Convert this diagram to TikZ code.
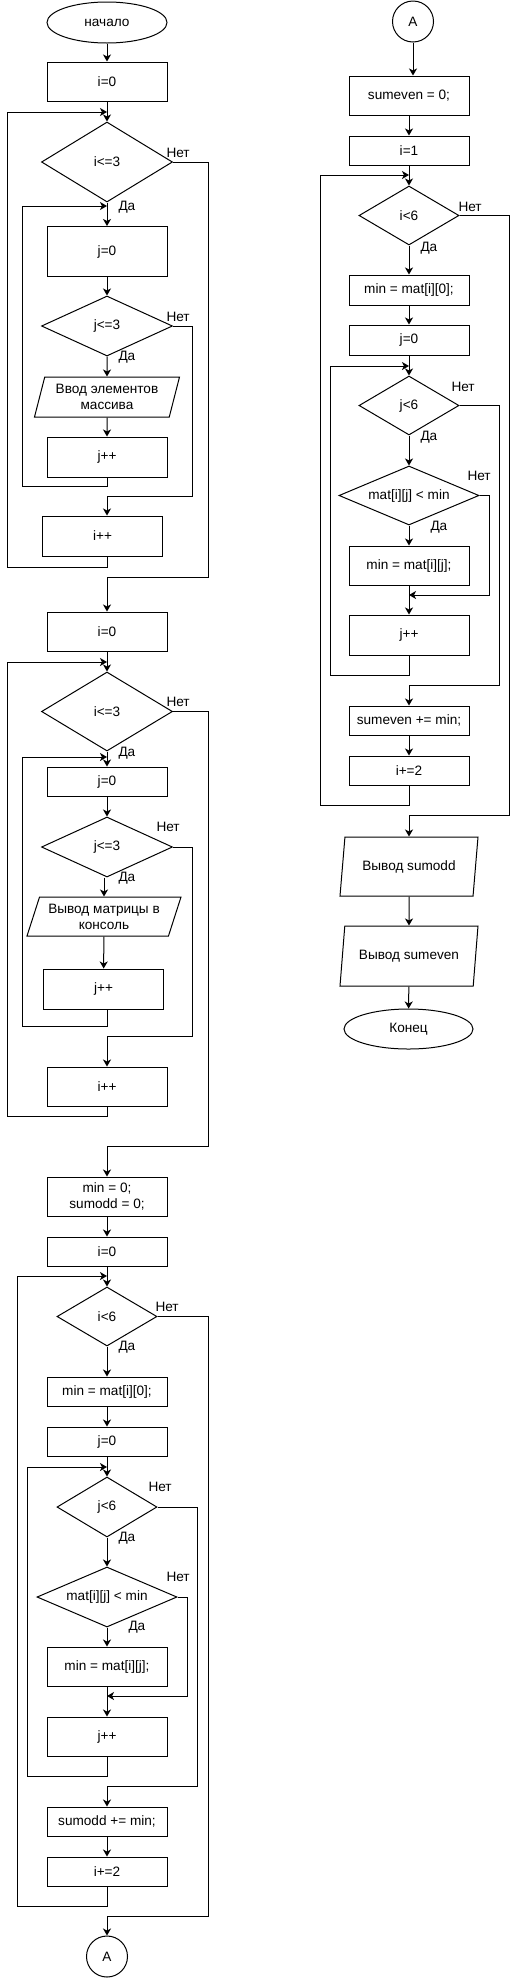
\documentclass[tikz,border=0pt]{standalone}
\usepackage{fontspec}
\setmainfont{Liberation Sans}
\usetikzlibrary{shapes.geometric,arrows.meta}

\begin{document}
\begin{tikzpicture}
[x=0.75pt,y=-0.75pt,%
  font=\fontsize{10.2}{12}\selectfont,%
  procDecorate/.style={shape=rectangle,draw,minimum width=90pt,inner sep=1pt,align=center},%
  condDecorate/.style={shape=diamond,draw,inner sep=0pt},%
  ioDecorate/.style={shape=trapezium,draw,trapezium stretches body,inner sep=1pt,align=center},%
  termDecorate/.style={shape=ellipse,draw,inner sep=0pt},%
  linkDecorate/.style={shape=circle,draw,minimum size=30.75pt,inner sep=0pt},%
  lineDecorate/.style={-{Stealth[length=5.25pt,width=6pt,inset=1.5pt]}},%
  lblDecorate/.style={anchor=west,inner sep=0pt},%
  line width=0.75pt]
\useasboundingbox (0,0) rectangle (518,1978);
%% terminals and connectors
\node (start) at (107,22.5) [termDecorate,minimum width=90pt,minimum height=30.75pt] {начало};
\node (fin) at (408.5,1029) [termDecorate,minimum width=96.75pt,minimum height=30pt] {Конец};
\node (conA) at (107,1956.5) [linkDecorate] {A};
\node (conB) at (413,21.5) [linkDecorate] {A};
%% process boxes
\foreach \nodename/\x/\y/\h/\txt in {
  i0a/107/81.5/29.25pt/{i=0}, j0a/107/251.5/37.5pt/{j=0},
  jpa/107/457/30pt/{j++}, ipa/102.5/536/30pt/{i++},
  i0b/107/631.5/29.25pt/{i=0}, j0b/107/781.5/21.75pt/{j=0},
  jpb/103.5/989/30pt/{j++}, ipb/107/1086.5/29.25pt/{i++},
  min0/107/1196.5/29.25pt/{min = 0;\\sumodd = 0;}, i0c/107/1251.5/21.75pt/{i=0},
  mi0a/107/1391.5/21.75pt/{min = mat[i][0];}, j0c/107/1441.5/21.75pt/{j=0},
  mija/107/1666.5/29.25pt/{min = mat[i][j];}, jpc/107/1736.5/29.25pt/{j++},
  sodd/107/1821.5/21.75pt/{sumodd += min;}, i2a/107/1871.5/21.75pt/{i+=2},
  sev0/409/95.5/29.25pt/{sumeven = 0;}, i1/409/150.5/21.75pt/{i=1},
  mi0b/409/290/22.5pt/{min = mat[i][0];}, j0d/409/340/22.5pt/{j=0},
  mijb/409/565.5/29.25pt/{min = mat[i][j];}, jpd/409/635/30pt/{j++},
  seven/409/720.5/21.75pt/{sumeven += min;}, i2b/409/770.5/21.75pt/{i+=2}}
{
  \node (\nodename) at (\x,\y) [procDecorate,minimum height=\h] {\txt};
}
%% conditions
\foreach \nodename/\x/\y/\w/\h/\a/\txt in {
  ci1/107/162/98.25pt/60pt/1.64/{i<=3}, cj1/107/326/98.25pt/45pt/2.18/{j<=3},
  ci2/107/711.5/98.25pt/59.25pt/1.66/{i<=3}, cj2/107/847/98.25pt/45pt/2.18/{j<=3},
  ci3/107/1316.5/75pt/44.25pt/1.7/{i<6}, cj3/107/1507/75pt/45pt/1.67/{j<6},
  cm3/107/1597/105pt/45pt/2.33/{mat[i][j] < min},
  ci4/409/215.5/75pt/44.25pt/1.7/{i<6}, cj4/409/405.5/75pt/44.25pt/1.7/{j<6},
  cm4/409/495.5/105pt/44.25pt/2.37/{mat[i][j] < min}}
{
  \node (\nodename) at (\x,\y) [condDecorate,minimum width=\w,minimum height=\h,aspect=\a] {\txt};
}
%% input and output
\node (inA) at (107,397) [ioDecorate,trapezium left angle=70,trapezium right angle=110,
  minimum width=108.75pt,minimum height=30pt] {Ввод элементов\\массива};
\node (outB) at (104,916.5) [ioDecorate,trapezium left angle=66,trapezium right angle=114,
  minimum width=115.5pt,minimum height=29.25pt] {Вывод матрицы в\\консоль};
\node (outC) at (409,866.5) [ioDecorate,trapezium left angle=72,trapezium right angle=108,
  minimum width=103.5pt,minimum height=44.25pt] {Вывод sumodd};
\node (outD) at (409,956) [ioDecorate,trapezium left angle=72,trapezium right angle=108,
  minimum width=103.5pt,minimum height=45pt] {Вывод sumeven};
%% branch labels
\foreach \nodename/\x/\y/\txt in {
  no1/166/153/Нет, no2/166/317/Нет, no3/166/702/Нет, no4/156/827/Нет,
  no5/155/1307/Нет, no6/148/1487/Нет, no7/166/1577/Нет,
  no8/458/207/Нет, no9/451/387/Нет, no10/467/476/Нет,
  yes1/118/207/Да, yes2/118/357/Да, yes3/118/753/Да, yes4/118/878/Да,
  yes5/118/1347/Да, yes6/118/1538/Да, yes7/128/1627/Да,
  yes8/420/248/Да, yes9/420/437/Да, yes10/430/527/Да}
{
  \node (\nodename) at (\x,\y) [lblDecorate] {\txt};
}
%% join points
\foreach \nodename/\x/\y in {
  jn1/107/112, jn2/107/206, jn3/107/662, jn4/107/757, jn5/107/1276,
  jn6/107/1467, jn7/107/1696, jn8/409/175, jn9/409/366, jn10/409/595}
{
  \coordinate (\nodename) at (\x,\y);
}
%% straight flow
\path
\foreach \startnode/\endnode in {start/i0a, i0a/ci1, ci1/j0a, j0a/cj1, cj1/inA,
  inA/jpa, i0b/ci2, ci2/j0b, j0b/cj2, outB/jpb, min0/i0c, i0c/ci3, ci3/mi0a,
  mi0a/j0c, j0c/cj3, cj3/cm3, cm3/mija, mija/jpc, sodd/i2a, sev0/i1, i1/ci4,
  ci4/mi0b, mi0b/j0d, j0d/cj4, cj4/cm4, cm4/mijb, mijb/jpd, seven/i2b,
  outC/outD, outD/fin}
{
  (\startnode) edge[lineDecorate] (\endnode)
};
\draw[lineDecorate] (outB.north |- cj2.south) -- (outB.north);
\draw[lineDecorate] (conB.south) -- (conB.south |- sev0.north);
%% loops and exits
\draw[lineDecorate] (jpa.south) |- (22,486) |- (jn2);
\draw[lineDecorate] (ipa.south -| jn1) |- (7,567) |- (jn1);
\draw[lineDecorate] (cj1.east) -| (192,496) -| (ipa.north -| jn1);
\draw[lineDecorate] (ci1.east) -| (208,577) -| (i0b.north);
\draw[lineDecorate] (jpb.south -| jn4) |- (22,1026) |- (jn4);
\draw[lineDecorate] (ipb.south) |- (7,1116) |- (jn3);
\draw[lineDecorate] (cj2.east) -| (192,1036) -| (ipb.north);
\draw[lineDecorate] (ci2.east) -| (208,1146) -| (min0.north);
\draw[lineDecorate] (i2a.south) |- (17,1906) |- (jn5);
\draw[lineDecorate] (jpc.south) |- (27,1776) |- (jn6);
\draw[lineDecorate] (cm3.east) -| (187,1696) -- (jn7);
\draw[lineDecorate] (cj3.east) -| (197,1786) -| (sodd.north);
\draw[lineDecorate] (ci3.east) -| (208,1916) -| (conA.north);
\draw[lineDecorate] (i2b.south) |- (320,805) |- (jn8);
\draw[lineDecorate] (jpd.south) |- (330,675) |- (jn9);
\draw[lineDecorate] (cm4.east) -| (489,595) -- (jn10);
\draw[lineDecorate] (cj4.east) -| (499,685) -| (seven.north);
\draw[lineDecorate] (ci4.east) -| (509,815) -| (outC.north);
\end{tikzpicture}
\end{document}
